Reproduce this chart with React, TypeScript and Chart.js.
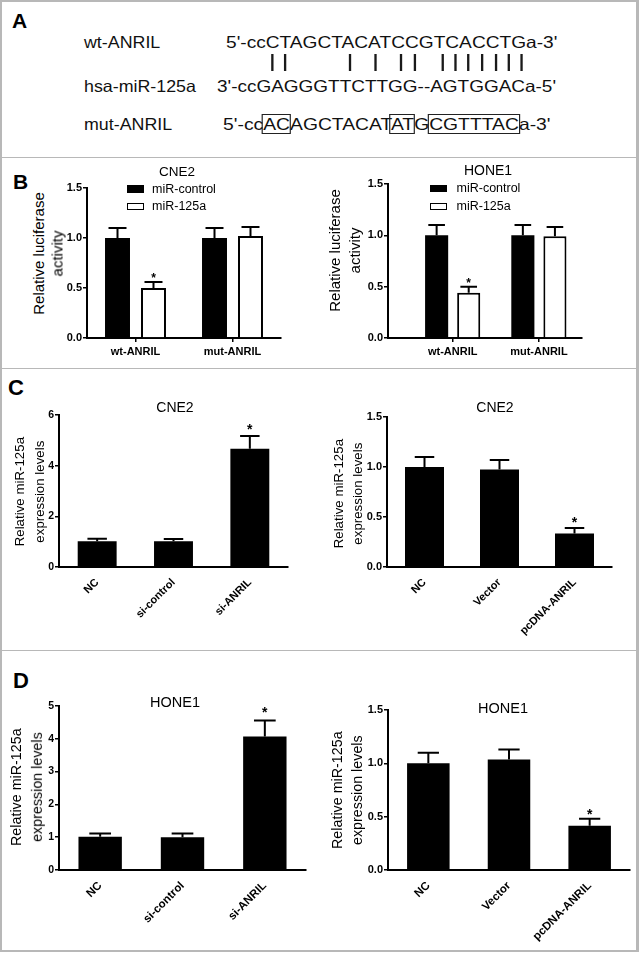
import React, { useEffect, useRef } from 'react';
import { Chart, registerables } from 'chart.js';

Chart.register(...registerables);

const FONT = "'Liberation Sans', Arial, Helvetica, sans-serif";

// ---------- Panel A data ----------
const seqLabels = ['wt-ANRIL', 'hsa-miR-125a', 'mut-ANRIL'];
const seqWt = "5'-ccCTAGCTACATCCGTCACCTGa-3'";
const seqMir = "3'-ccGAGGGTTCTTGG--AGTGGACa-5'";
const seqMut = "5'-ccACAGCTACATATGCGTTTACa-3'";
const pairedPositions = [1, 2, 7, 9, 11, 12, 14, 15, 16, 17, 18, 19, 20];
const mutatedRanges = [[1, 2], [11, 12], [14, 20]];

// ---------- Panel B data ----------
const lucCategories = ['wt-ANRIL', 'mut-ANRIL'];
const lucSeriesNames = ['miR-control', 'miR-125a'];
const lucCne2Control = [1.0, 1.0];
const lucCne2ControlErr = [0.1, 0.1];
const lucCne2Mir = [0.5, 1.02];
const lucCne2MirErr = [0.06, 0.09];
const lucCne2MirStar = [true, false];
const lucHone1Control = [1.0, 1.0];
const lucHone1ControlErr = [0.1, 0.1];
const lucHone1Mir = [0.44, 0.99];
const lucHone1MirErr = [0.06, 0.09];
const lucHone1MirStar = [true, false];
const lucTicks = [0, 0.5, 1.0, 1.5];

// ---------- Panel C / D data ----------
const siCategories = ['NC', 'si-control', 'si-ANRIL'];
const ovCategories = ['NC', 'Vector', 'pcDNA-ANRIL'];
const cne2Si = [1.02, 1.02, 4.67];
const cne2SiErr = [0.1, 0.09, 0.5];
const cne2SiStar = [false, false, true];
const cne2SiTicks = [0, 2, 4, 6];
const cne2Ov = [1.0, 0.975, 0.335];
const cne2OvErr = [0.1, 0.095, 0.055];
const cne2OvStar = [false, false, true];
const ovTicks = [0, 0.5, 1.0, 1.5];
const hone1Si = [1.01, 1.0, 4.07];
const hone1SiErr = [0.1, 0.11, 0.49];
const hone1SiStar = [false, false, true];
const hone1SiTicks = [0, 1, 2, 3, 4, 5];
const hone1Ov = [1.0, 1.035, 0.415];
const hone1OvErr = [0.1, 0.095, 0.065];
const hone1OvStar = [false, false, true];

// ---------- error bar plugin ----------
const errorBarPlugin = {
  id: 'errorBars',
  afterDatasetsDraw(chart: any, _args: any, opts: any) {
    const ctx = chart.ctx;
    const yScale = chart.scales.y;
    chart.data.datasets.forEach((ds: any, di: number) => {
      const meta = chart.getDatasetMeta(di);
      meta.data.forEach((bar: any, i: number) => {
        const parsed = meta._parsed[i];
        const v = parsed.y;
        const err = ds.errors[i];
        const { x, y, width } = bar.getProps(['x', 'y', 'width'], true);
        const topPx = yScale.getPixelForValue(v + err);
        const half = (width * opts.capRatio) / 2;
        ctx.save();
        ctx.strokeStyle = '#000';
        ctx.lineWidth = 2;
        ctx.beginPath();
        ctx.moveTo(x, y);
        ctx.lineTo(x, topPx);
        ctx.moveTo(x - half, topPx);
        ctx.lineTo(x + half, topPx);
        ctx.stroke();
        if (ds.stars[i]) {
          ctx.fillStyle = '#000';
          ctx.font = `bold ${opts.starFont}px ${FONT}`;
          ctx.textAlign = 'center';
          ctx.textBaseline = 'alphabetic';
          ctx.fillText('*', x, topPx - opts.starGap + 0.58 * opts.starFont);
        }
        ctx.restore();
      });
    });
  },
};

type Series = { name: string; values: number[]; errors: number[]; stars: boolean[]; fill: string; border: number };
type PanelProps = {
  categories: string[];
  series: Series[];
  yTicks: number[];
  decimals: number;
  x0: number;
  x1: number;
  yTop: number;
  yBottom: number;
  xMin?: number;
  xMax?: number;
  catPct: number;
  barPct: number;
  capRatio: number;
  rotate: number;
  xFont: number;
  yFont: number;
  xPad: number;
  xTickMarks: boolean;
  starFont: number;
  starGap: number;
  xAxisH: number;
};

const Y_AXIS_W = 34;
const PAD_TOP = 12;
const PAD_RIGHT = 8;

function BarPanel(p: PanelProps) {
  const ref = useRef<HTMLCanvasElement>(null);
  useEffect(() => {
    const linear = p.xMin !== undefined;
    const datasets = p.series.map((s) => ({
      label: s.name,
      data: linear ? s.values.map((v, i) => ({ x: i, y: v })) : s.values,
      backgroundColor: s.fill,
      borderColor: '#000',
      borderWidth: s.border,
      borderSkipped: 'start',
      categoryPercentage: p.catPct,
      barPercentage: p.barPct,
      errors: s.errors,
      stars: s.stars,
    }));
    const xCommon = {
      grid: {
        display: true,
        offset: false,
        drawOnChartArea: false,
        drawTicks: p.xTickMarks,
        tickLength: 4,
        color: '#000',
        lineWidth: 1.5,
      },
      border: { display: true, color: '#000', width: 2 },
      afterFit: (s: any) => {
        s.height = p.xAxisH;
      },
    };
    const xTicks = {
      font: { family: FONT, size: p.xFont, weight: 'bold' as const },
      color: '#000',
      maxRotation: p.rotate,
      minRotation: p.rotate,
      autoSkip: false,
      padding: p.xPad,
    };
    const xScale: any = linear
      ? {
          type: 'linear',
          min: p.xMin,
          max: p.xMax,
          offset: false,
          afterBuildTicks: (s: any) => {
            s.ticks = p.categories.map((_, i) => ({ value: i }));
          },
          ticks: { ...xTicks, callback: (v: any) => p.categories[Math.round(Number(v))] ?? '' },
          ...xCommon,
        }
      : {
          type: 'category',
          offset: true,
          ticks: xTicks,
          ...xCommon,
        };
    const chart = new Chart(ref.current as HTMLCanvasElement, {
      type: 'bar',
      data: linear ? { datasets: datasets as any } : { labels: p.categories, datasets: datasets as any },
      options: {
        animation: false,
        responsive: true,
        maintainAspectRatio: false,
        layout: { padding: { top: PAD_TOP, right: PAD_RIGHT, left: 0, bottom: 0 } },
        plugins: {
          legend: { display: false },
          tooltip: { enabled: false },
          title: { display: false },
          // @ts-ignore
          errorBars: { capRatio: p.capRatio, starFont: p.starFont, starGap: p.starGap },
        },
        scales: {
          x: xScale,
          y: {
            min: p.yTicks[0],
            max: p.yTicks[p.yTicks.length - 1],
            afterBuildTicks: (s: any) => {
              s.ticks = p.yTicks.map((v) => ({ value: v }));
            },
            ticks: {
              callback: (v: any) => Number(v).toFixed(p.decimals),
              font: { family: FONT, size: p.yFont, weight: 'bold' as const },
              color: '#000',
              padding: 1,
            },
            grid: { drawOnChartArea: false, drawTicks: true, tickLength: 4, color: '#000', lineWidth: 1.5 },
            border: { display: true, color: '#000', width: 2 },
            afterFit: (s: any) => {
              s.width = Y_AXIS_W;
            },
          } as any,
        },
      },
      plugins: [errorBarPlugin as any],
    });
    return () => chart.destroy();
  }, []);
  const left = Math.round(p.x0 - Y_AXIS_W);
  const top = Math.round(p.yTop - PAD_TOP);
  const width = Math.round(Y_AXIS_W + (p.x1 - p.x0) + PAD_RIGHT);
  const height = Math.round(PAD_TOP + (p.yBottom - p.yTop) + p.xAxisH);
  return (
    <div style={{ position: 'absolute', left, top, width, height }}>
      <canvas ref={ref} />
    </div>
  );
}

// ---------- small HTML helpers ----------
function CenterText({ cx, cy, size, text }: { cx: number; cy: number; size: number; text: string }) {
  return (
    <div
      style={{
        position: 'absolute',
        left: cx - 120,
        top: cy - size / 2,
        width: 240,
        height: size,
        lineHeight: `${size}px`,
        fontSize: size,
        textAlign: 'center',
        whiteSpace: 'nowrap',
      }}
    >
      {text}
    </div>
  );
}

function VText({ cx, cy, size, text }: { cx: number; cy: number; size: number; text: string }) {
  return (
    <div
      style={{
        position: 'absolute',
        left: Math.round(cx - 120),
        top: Math.round(cy - size / 2),
        width: 240,
        height: size,
        lineHeight: `${size}px`,
        fontSize: size,
        textAlign: 'center',
        whiteSpace: 'nowrap',
        transform: 'rotate(-90deg)',
        transformOrigin: '50% 50%',
      }}
    >
      {text}
    </div>
  );
}

function Letter({ x, capTop, size, text }: { x: number; capTop: number; size: number; text: string }) {
  return (
    <div
      style={{
        position: 'absolute',
        left: x,
        top: capTop - 0.13 * size,
        fontSize: size,
        lineHeight: `${size}px`,
        fontWeight: 'bold',
      }}
    >
      {text}
    </div>
  );
}

function LegendItem({ x, boxTop, textX, textCy, filled, label }: { x: number; boxTop: number; textX: number; textCy: number; filled: boolean; label: string }) {
  return (
    <>
      <div
        style={{
          position: 'absolute',
          left: x,
          top: boxTop,
          width: 17,
          height: 7.5,
          boxSizing: 'border-box',
          background: filled ? '#000' : '#fff',
          border: filled ? 'none' : '1.6px solid #000',
        }}
      />
      <div
        style={{
          position: 'absolute',
          left: textX,
          top: textCy - 6.25,
          fontSize: 12.5,
          lineHeight: '12.5px',
          whiteSpace: 'nowrap',
        }}
      >
        {label}
      </div>
    </>
  );
}

const SEQ_FONT = 16.5;

function SeqRow({ left, cy, scale, children }: { left: number; cy: number; scale: number; children: React.ReactNode }) {
  return (
    <div
      style={{
        position: 'absolute',
        left,
        top: cy - SEQ_FONT / 2,
        fontSize: SEQ_FONT,
        lineHeight: `${SEQ_FONT}px`,
        whiteSpace: 'pre',
        transform: `scaleX(${scale})`,
        transformOrigin: '0 50%',
        color: '#111',
      }}
    >
      {children}
    </div>
  );
}

function PanelA() {
  const rowsCy = [42.5, 86, 124];
  const wtScale = 1.159;
  const mirScale = 1.149;
  const mutScale = 1.17;
  const prefix = 5;
  const bars = seqWt.split('').map((ch, i) => {
    const pos = i - prefix + 1;
    const paired = pairedPositions.includes(pos);
    return (
      <span key={i} style={{ position: 'relative', color: 'transparent' }}>
        {ch}
        {paired && (
          <span
            style={{
              position: 'absolute',
              left: '50%',
              top: -1,
              width: 2,
              marginLeft: -1,
              height: 17,
              background: '#1a1a1a',
            }}
          />
        )}
      </span>
    );
  });
  const mutChars = seqMut.split('');
  const segs: React.ReactNode[] = [];
  let i = 0;
  while (i < mutChars.length) {
    const pos = i - prefix + 1;
    const range = mutatedRanges.find((r) => r[0] === pos);
    if (range) {
      const len = range[1] - range[0] + 1;
      segs.push(
        <span key={i} style={{ outline: '1.4px solid #222', outlineOffset: -0.5 }}>
          {mutChars.slice(i, i + len).join('')}
        </span>
      );
      i += len;
    } else {
      segs.push(<span key={i}>{mutChars[i]}</span>);
      i += 1;
    }
  }
  return (
    <>
      {seqLabels.map((t, k) => (
        <SeqRow key={t} left={84} cy={rowsCy[k]} scale={1.08}>
          {t}
        </SeqRow>
      ))}
      <SeqRow left={225.7} cy={rowsCy[0]} scale={wtScale}>
        {seqWt}
      </SeqRow>
      <div
        style={{
          position: 'absolute',
          left: 225.7,
          top: 56,
          fontSize: SEQ_FONT,
          lineHeight: '17px',
          height: 17,
          whiteSpace: 'pre',
          transform: `scaleX(${wtScale})`,
          transformOrigin: '0 50%',
        }}
      >
        {bars}
      </div>
      <SeqRow left={216.7} cy={rowsCy[1]} scale={mirScale}>
        {seqMir}
      </SeqRow>
      <SeqRow left={222.7} cy={rowsCy[2]} scale={mutScale}>
        {segs}
      </SeqRow>
    </>
  );
}

const FRAME = '#b8b8b8';

export default function App() {
  useEffect(() => {
    document.body.style.margin = '0';
  }, []);

  const lucCne2Series: Series[] = [
    { name: lucSeriesNames[0], values: lucCne2Control, errors: lucCne2ControlErr, stars: [false, false], fill: '#000', border: 0 },
    { name: lucSeriesNames[1], values: lucCne2Mir, errors: lucCne2MirErr, stars: lucCne2MirStar, fill: '#fff', border: 2 },
  ];
  const lucHone1Series: Series[] = [
    { name: lucSeriesNames[0], values: lucHone1Control, errors: lucHone1ControlErr, stars: [false, false], fill: '#000', border: 0 },
    { name: lucSeriesNames[1], values: lucHone1Mir, errors: lucHone1MirErr, stars: lucHone1MirStar, fill: '#fff', border: 2 },
  ];

  return (
    <div
      style={{
        position: 'absolute',
        left: 0,
        top: 0,
        width: 640,
        height: 953,
        background: '#fff',
        fontFamily: FONT,
        color: '#000',
        overflow: 'hidden',
      }}
    >
      {/* frame */}
      <div style={{ position: 'absolute', left: 0, top: 0, width: 638, height: 2, background: FRAME }} />
      <div style={{ position: 'absolute', left: 0, top: 0, width: 2, height: 952, background: FRAME }} />
      <div style={{ position: 'absolute', left: 636, top: 0, width: 2.5, height: 952, background: FRAME }} />
      <div style={{ position: 'absolute', left: 0, top: 950, width: 638, height: 2, background: FRAME }} />
      <div style={{ position: 'absolute', left: 0, top: 156.5, width: 638, height: 1.6, background: FRAME }} />
      <div style={{ position: 'absolute', left: 0, top: 367.5, width: 638, height: 1.6, background: FRAME }} />
      <div style={{ position: 'absolute', left: 0, top: 649.5, width: 638, height: 1.6, background: FRAME }} />

      {/* panel letters */}
      <Letter x={12} capTop={13} size={21} text="A" />
      <Letter x={13} capTop={173.3} size={21} text="B" />
      <Letter x={8} capTop={380} size={22} text="C" />
      <Letter x={13} capTop={673.3} size={22} text="D" />

      <PanelA />

      {/* Panel B */}
      <BarPanel
        categories={lucCategories}
        series={lucCne2Series}
        yTicks={lucTicks}
        decimals={1}
        x0={87}
        x1={281}
        yTop={188}
        yBottom={338}
        catPct={0.742}
        barPct={0.694}
        capRatio={0.72}
        rotate={0}
        xFont={11}
        yFont={11}
        xPad={3}
        xTickMarks={true}
        starFont={12}
        starGap={7}
        xAxisH={28}
      />
      <BarPanel
        categories={lucCategories}
        series={lucHone1Series}
        yTicks={lucTicks}
        decimals={1}
        x0={388}
        x1={582}
        yTop={184}
        yBottom={338}
        xMin={-0.75}
        xMax={1.5}
        catPct={0.744}
        barPct={0.72}
        capRatio={0.72}
        rotate={0}
        xFont={11}
        yFont={11}
        xPad={3}
        xTickMarks={true}
        starFont={12}
        starGap={7}
        xAxisH={28}
      />
      <CenterText cx={177} cy={172} size={13.5} text="CNE2" />
      <CenterText cx={488} cy={170} size={14} text="HONE1" />
      <VText cx={38} cy={253} size={15} text="Relative luciferase" />
      <VText cx={57} cy={253} size={15} text="activity" />
      <VText cx={334} cy={250} size={15} text="Relative luciferase" />
      <VText cx={354} cy={250} size={15} text="activity" />
      <LegendItem x={127} boxTop={185} textX={152} textCy={189} filled={true} label={lucSeriesNames[0]} />
      <LegendItem x={127} boxTop={202.5} textX={152} textCy={206.5} filled={false} label={lucSeriesNames[1]} />
      <LegendItem x={430} boxTop={184.5} textX={456.5} textCy={188.5} filled={true} label={lucSeriesNames[0]} />
      <LegendItem x={430} boxTop={202.5} textX={456.5} textCy={206.5} filled={false} label={lucSeriesNames[1]} />

      {/* Panel C */}
      <BarPanel
        categories={siCategories}
        series={[{ name: 'CNE2', values: cne2Si, errors: cne2SiErr, stars: cne2SiStar, fill: '#000', border: 0 }]}
        yTicks={cne2SiTicks}
        decimals={0}
        x0={59}
        x1={288}
        yTop={415}
        yBottom={567}
        catPct={1}
        barPct={0.51}
        capRatio={0.5}
        rotate={45}
        xFont={11}
        yFont={10.5}
        xPad={9}
        xTickMarks={false}
        starFont={14}
        starGap={10}
        xAxisH={70}
      />
      <BarPanel
        categories={ovCategories}
        series={[{ name: 'CNE2', values: cne2Ov, errors: cne2OvErr, stars: cne2OvStar, fill: '#000', border: 0 }]}
        yTicks={ovTicks}
        decimals={1}
        x0={387}
        x1={612}
        yTop={417}
        yBottom={567}
        catPct={1}
        barPct={0.52}
        capRatio={0.5}
        rotate={45}
        xFont={11}
        yFont={11}
        xPad={9}
        xTickMarks={false}
        starFont={14}
        starGap={9}
        xAxisH={70}
      />
      <CenterText cx={175} cy={407} size={14} text="CNE2" />
      <CenterText cx={495} cy={407} size={14} text="CNE2" />
      <VText cx={20} cy={492} size={13.3} text="Relative miR-125a" />
      <VText cx={40} cy={492} size={13.3} text="expression  levels" />
      <VText cx={339} cy={494} size={13.3} text="Relative miR-125a" />
      <VText cx={358} cy={494} size={13.3} text="expression  levels" />

      {/* Panel D */}
      <BarPanel
        categories={siCategories}
        series={[{ name: 'HONE1', values: hone1Si, errors: hone1SiErr, stars: hone1SiStar, fill: '#000', border: 0 }]}
        yTicks={hone1SiTicks}
        decimals={0}
        x0={59}
        x1={306}
        yTop={706}
        yBottom={870}
        catPct={1}
        barPct={0.527}
        capRatio={0.5}
        rotate={45}
        xFont={11.5}
        yFont={10.5}
        xPad={9}
        xTickMarks={false}
        starFont={14}
        starGap={11.5}
        xAxisH={75}
      />
      <BarPanel
        categories={ovCategories}
        series={[{ name: 'HONE1', values: hone1Ov, errors: hone1OvErr, stars: hone1OvStar, fill: '#000', border: 0 }]}
        yTicks={ovTicks}
        decimals={1}
        x0={388}
        x1={630}
        yTop={710}
        yBottom={870}
        catPct={1}
        barPct={0.527}
        capRatio={0.5}
        rotate={45}
        xFont={11.5}
        yFont={11}
        xPad={9}
        xTickMarks={false}
        starFont={14}
        starGap={8}
        xAxisH={75}
      />
      <CenterText cx={175} cy={702} size={14.5} text="HONE1" />
      <CenterText cx={503} cy={708} size={14.5} text="HONE1" />
      <VText cx={16} cy={787} size={14.3} text="Relative miR-125a" />
      <VText cx={36.5} cy={787} size={14.3} text="expression levels" />
      <VText cx={336.5} cy={790} size={14.3} text="Relative miR-125a" />
      <VText cx={356.5} cy={790} size={14.3} text="expression levels" />
    </div>
  );
}
